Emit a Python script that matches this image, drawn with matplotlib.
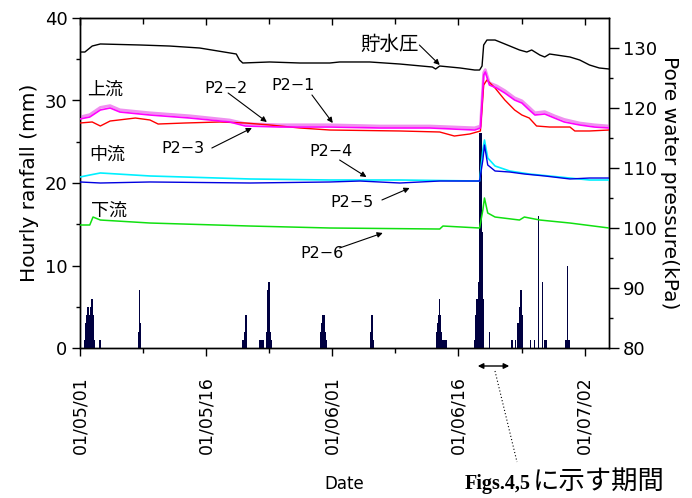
import matplotlib
matplotlib.use('Agg')
import matplotlib.pyplot as plt

plt.rcParams['font.family'] = ['DejaVu Sans', 'Noto Sans CJK JP']

# x values are days since 2001/05/01
tick_days = [0, 15.5, 31, 46.5, 62]
minor_days = [7.75, 23.25, 38.75, 54.25]
tick_labels = ['01/05/01', '01/05/16', '01/06/01', '01/06/16', '01/07/02']

rain_day = [0.6, 0.72, 0.84, 0.96, 1.08, 1.2, 1.32, 1.44, 1.56, 1.68, 1.8, 2.46,
            7.2, 7.3, 7.42,
            20.0, 20.12, 20.24, 20.36,
            22.1, 22.3, 22.5,
            22.96, 23.08, 23.2, 23.32, 23.44,
            29.6, 29.72, 29.84, 29.96, 30.08, 30.2,
            35.7, 35.85, 36.0,
            43.8, 43.92, 44.04, 44.16, 44.28, 44.4, 44.6, 44.8, 45.0,
            48.5, 48.65, 48.8, 49.0, 49.12, 49.24, 49.36, 49.48, 49.6, 50.3,
            53.1, 53.5, 53.8, 54.0, 54.15, 54.3,
            55.37, 55.86, 56.35, 56.85, 57.1, 57.3,
            59.75, 59.9, 60.1]
rain_mm = [1, 3, 4, 5, 4, 4, 5, 6, 4, 2, 1, 1,
           2, 7, 3,
           1, 1, 2, 4,
           1, 1, 1,
           2, 7, 8, 2, 1,
           2, 3, 4, 4, 2, 1,
           2, 4, 1,
           2, 3, 4, 6, 4, 2, 1, 1, 1,
           1, 4, 6, 8, 26, 26, 14, 6, 2, 2,
           1, 1, 3, 5, 7, 4,
           1, 1, 16, 8, 1, 1,
           1, 10, 1]

black_day = [0, 0.6, 1.5, 2.5, 7.4, 11.0, 14.7, 19.2, 19.6, 20.0, 23.3, 27.0, 30.7,
             31.9, 35.6, 39.3, 43.3, 43.7, 44.2, 46.7, 48.5, 49.1, 49.4, 49.6, 50.0,
             51.0, 52.2, 54.0, 54.9, 55.5, 56.5, 57.1, 57.7, 60.2, 61.4, 62.6, 63.8, 65.0]
black_kpa = [129.33, 129.33, 130.33, 130.67, 130.5, 130.33, 130.0, 129.0, 128.0, 127.5,
             127.67, 127.5, 127.5, 127.67, 127.67, 127.33, 126.83, 126.5, 127.0, 126.67,
             126.33, 126.33, 127.0, 130.5, 131.33, 131.33, 130.67, 129.67, 129.33, 129.67,
             128.83, 128.5, 129.0, 128.5, 128.0, 127.17, 126.67, 126.5]

mag_day = [0, 1.2, 2.5, 3.7, 4.9, 8.6, 13.5, 18.4, 20.3, 24.6, 30.7, 36.8, 43.0, 48.5,
           49.2, 49.6, 49.8, 50.3, 51.2, 52.2, 53.4, 54.3, 55.2, 55.9, 57.1, 58.3, 59.5,
           61.4, 63.2, 65.0]
mag_kpa = [118.17, 118.5, 119.67, 120.0, 119.33, 118.83, 118.33, 117.67, 117.0, 116.83,
           116.83, 116.67, 116.67, 116.33, 116.67, 125.5, 126.0, 123.83, 123.33, 122.5,
           121.33, 120.83, 119.67, 118.83, 119.0, 118.33, 117.67, 117.17, 116.83, 116.67]

vio_day = [0, 1.2, 2.5, 3.7, 4.9, 8.6, 13.5, 18.4, 20.3, 24.6, 30.7, 36.8, 43.0, 48.5,
           49.2, 49.6, 49.8, 50.3, 51.2, 52.2, 53.4, 54.3, 55.2, 55.9, 57.1, 58.3, 59.5,
           61.4, 63.2, 65.0]
vio_kpa = [118.5, 118.9, 120.1, 120.4, 119.7, 119.2, 118.7, 118.0, 117.4, 117.2,
           117.2, 117.0, 117.0, 116.7, 117.0, 125.9, 126.4, 124.2, 123.7, 122.9,
           121.7, 121.2, 120.1, 119.2, 119.4, 118.7, 118.1, 117.5, 117.2, 117.0]

red_day = [0, 1.5, 2.5, 3.7, 6.8, 8.6, 9.6, 12.9, 17.2, 20.3, 23.3, 27.0, 30.7, 39.3,
           44.2, 46.0, 47.9, 49.2, 49.6, 50.0, 51.0, 52.2, 53.4, 54.3, 55.2, 56.1, 57.7,
           60.2, 60.8, 62.6, 65.0]
red_kpa = [117.5, 117.67, 117.0, 117.83, 118.33, 118.0, 117.33, 117.5, 117.67, 117.5,
           117.17, 116.67, 116.33, 116.17, 116.0, 115.33, 115.67, 116.17, 123.83, 124.67,
           123.33, 121.33, 119.67, 118.83, 118.33, 117.0, 116.83, 116.83, 116.17, 116.17,
           116.33]

blue_day = [0, 2.5, 8.6, 20.9, 30.7, 34.4, 39.3, 44.2, 49.1, 49.5, 49.7, 50.1, 51.0,
            52.8, 54.6, 57.1, 60.2, 62.6, 65.0]
blue_kpa = [107.67, 107.5, 107.67, 107.5, 107.67, 107.83, 107.5, 107.83, 107.83, 111.33,
            113.83, 110.5, 109.5, 109.33, 109.0, 108.67, 108.17, 108.33, 108.33]

cyan_day = [0, 1.2, 2.5, 8.6, 20.9, 30.7, 39.3, 49.1, 49.5, 49.7, 50.1, 51.0, 52.8,
            55.2, 58.9, 62.6, 65.0]
cyan_kpa = [108.5, 108.83, 109.17, 108.67, 108.17, 108.0, 108.0, 107.83, 113.0, 114.67,
            111.67, 110.33, 109.5, 109.0, 108.5, 108.0, 108.0]

green_day = [0, 1.2, 1.6, 2.5, 8.6, 20.9, 30.7, 44.2, 44.6, 49.1, 49.5, 49.7, 50.1,
             51.0, 54.0, 54.6, 56.5, 60.2, 65.0]
green_kpa = [100.5, 100.5, 101.83, 101.33, 100.83, 100.33, 100.0, 99.83, 100.33, 100.0,
             103.0, 105.0, 102.5, 101.83, 101.33, 101.83, 101.33, 100.83, 100.0]

fig = plt.figure(figsize=(6.92, 4.98), dpi=100)
ax = fig.add_axes([80 / 692, 1 - 348 / 498, 529 / 692, 330 / 498])
ax2 = ax.twinx()

ax.bar(rain_day, rain_mm, width=0.2, color='#000040', align='center', zorder=3)
ax.set_xlim(0, 65)
ax.set_ylim(0, 40)
ax.set_yticks([0, 10, 20, 30, 40])
ax.set_yticks([5, 15, 25, 35], minor=True)
ax.set_xticks(tick_days)
ax.set_xticklabels(tick_labels, rotation=90, fontsize=12.5)
ax.set_xticks(minor_days, minor=True)
ax.tick_params(axis='y', which='major', direction='out', length=6, width=1, labelsize=13, pad=3)
ax.tick_params(axis='y', which='minor', direction='out', length=3, width=1)
ax.tick_params(axis='x', which='major', direction='out', length=6, width=1, pad=14)
ax.tick_params(axis='x', which='minor', direction='out', length=3.5, width=1)
ax.set_ylabel('Hourly ranfall (mm)', fontsize=14.5, labelpad=4)
ax.set_xlabel('Date', fontsize=12, labelpad=15)

top = ax.secondary_xaxis('top')
top.set_xticks(tick_days)
top.set_xticks(minor_days, minor=True)
top.tick_params(axis='x', which='major', direction='in', length=5, width=1, labeltop=False)
top.tick_params(axis='x', which='minor', direction='in', length=4, width=1)

ax2.plot(vio_day, vio_kpa, color='#f090f0', lw=2.0, zorder=2)
ax2.plot(red_day, red_kpa, color='#ff0000', lw=1.0, zorder=3)
ax2.plot(mag_day, mag_kpa, color='#ff00ff', lw=1.2, zorder=4)
ax2.plot(cyan_day, cyan_kpa, color='#00f0ff', lw=1.2, zorder=3)
ax2.plot(blue_day, blue_kpa, color='#0000e0', lw=1.0, zorder=4)
ax2.plot(green_day, green_kpa, color='#10e010', lw=1.1, zorder=3)
ax2.plot(black_day, black_kpa, color='black', lw=1.0, zorder=3)
ax2.set_ylim(80, 135)
ax2.set_yticks([80, 90, 100, 110, 120, 130])
ax2.set_yticks([85, 95, 105, 115, 125], minor=True)
ax2.tick_params(axis='y', which='major', direction='out', length=7, width=1, labelsize=13, pad=3)
ax2.tick_params(axis='y', which='minor', direction='out', length=3, width=1)
ax2.set_ylabel('Pore water pressure(kPa)', fontsize=14.5, rotation=270, labelpad=16)

for sp in list(ax.spines.values()) + list(ax2.spines.values()):
    sp.set_linewidth(1.0)

# labels
ax2.text(38.1, 130.67, '貯水圧', fontsize=14, ha='center', va='center')
ax2.text(3.1, 123.0, '上流', fontsize=13, ha='center', va='center')
ax2.text(3.4, 112.17, '中流', fontsize=13, ha='center', va='center')
ax2.text(3.6, 102.83, '下流', fontsize=13, ha='center', va='center')
ax2.text(17.9, 123.33, 'P2−2', fontsize=11.5, ha='center', va='center')
ax2.text(26.15, 123.67, 'P2−1', fontsize=11.5, ha='center', va='center')
ax2.text(12.65, 113.33, 'P2−3', fontsize=11.5, ha='center', va='center')
ax2.text(30.8, 112.67, 'P2−4', fontsize=11.5, ha='center', va='center')
ax2.text(33.4, 104.17, 'P2−5', fontsize=11.5, ha='center', va='center')
ax2.text(29.7, 95.67, 'P2−6', fontsize=11.5, ha='center', va='center')

arrow = dict(arrowstyle='-|>', color='black', lw=0.8, mutation_scale=8,
             shrinkA=0, shrinkB=0)
arrows = [((44.2, 127.17), (41.7, 130.5)),
          ((22.96, 117.67), (18.2, 122.5)),
          ((31.06, 117.5), (28.5, 122.17)),
          ((21.12, 116.67), (16.2, 113.33)),
          ((35.2, 108.5), (31.9, 111.33)),
          ((40.5, 106.67), (37.1, 104.67)),
          ((37.2, 99.17), (31.9, 96.67))]
for head, tail in arrows:
    ax2.annotate('', xy=head, xytext=tail, arrowprops=arrow)

# period of Figs.4,5 below the axis
fig.patches.append(matplotlib.patches.FancyArrowPatch(
    (475 / 692, 1 - 366 / 498), (512 / 692, 1 - 366 / 498), transform=fig.transFigure,
    arrowstyle='<|-|>', mutation_scale=8, lw=1.0, color='black'))
fig.lines.append(matplotlib.lines.Line2D([495 / 692, 517 / 692], [1 - 371 / 498, 1 - 462 / 498],
                                         transform=fig.transFigure, color='black', lw=0.8,
                                         linestyle=(0, (1, 2))))
fig.text(465 / 692, 1 - 489 / 498, 'Figs.4,5', fontsize=14.5, fontweight='bold',
         family='Liberation Serif', ha='left', va='baseline')
fig.text(533 / 692, 1 - 489 / 498, 'に示す期間', fontsize=19, family='Noto Sans CJK JP',
         ha='left', va='baseline')

fig.savefig('out.png', dpi=100)
